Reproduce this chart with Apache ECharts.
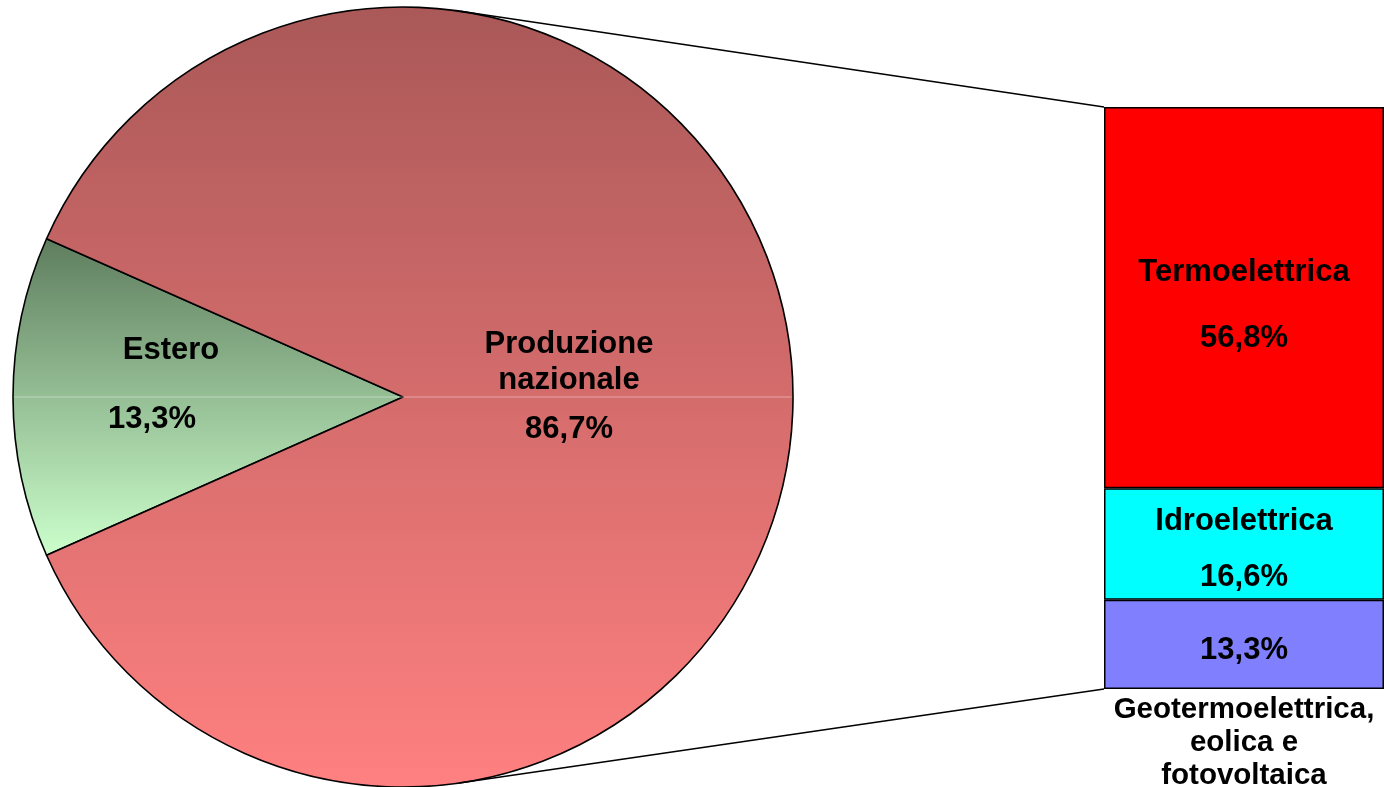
<!DOCTYPE html>
<html>
<head>
<meta charset="utf-8">
<script src="https://cdn.jsdelivr.net/npm/echarts@6/dist/echarts.min.js"></script>
<style>
html,body{margin:0;padding:0;background:#fff;}
#main{width:1384px;height:787px;}
</style>
</head>
<body>
<div id="main"></div>
<script>
// ---- data ----
const pieNames = ['Estero', 'Produzione nazionale'];
const pieValues = [13.3, 86.7];
const barNames = ['Geotermoelettrica,\neolica e\nfotovoltaica', 'Idroelettrica', 'Termoelettrica'];
const barValues = [13.3, 16.6, 56.8];
const barColors = ['#8080FF', '#00FFFF', '#FF0000'];

// ---- layout ----
const CX = 403, CY = 397, R = 390;
const GRID = {left: 1104, top: 107, width: 280, height: 582};

const fmt = v => v.toFixed(1).replace('.', ',') + '%';
const FONT = 'Liberation Sans, Arial, sans-serif';
const FS = 31;
const FS_SMALL = 29.5;
const txt = (fs, lh, extra) => Object.assign({fontSize: fs, fontWeight: 'bold', fontFamily: FONT, color: '#000', lineHeight: lh}, extra || {});

const chart = echarts.init(document.getElementById('main'), null, {renderer: 'canvas'});

const total = barValues.reduce((a, b) => a + b, 0);
const esteroAngle = pieValues[0] / (pieValues[0] + pieValues[1]) * 360;

const redGrad = new echarts.graphic.LinearGradient(0, CY - R, 0, CY + R,
  [{offset: 0, color: '#AA5858'}, {offset: 1, color: '#FF8080'}], true);
const greenGrad = new echarts.graphic.LinearGradient(0, 0, 0, 1,
  [{offset: 0, color: '#5E7D5E'}, {offset: 1, color: '#CCFFCC'}]);

const barSeries = barValues.map((v, i) => {
  let label;
  if (i === 0) {
    label = {
      show: true, position: 'inside', offset: [0, 56],
      formatter: '{v|' + fmt(v) + '}\n' + barNames[i].split('\n').map(s => '{n|' + s + '}').join('\n'),
      rich: {v: txt(FS, 84), n: txt(FS_SMALL, 33)}
    };
  } else if (i === 1) {
    label = {
      show: true, position: 'inside', offset: [0, 16],
      formatter: '{n|' + barNames[i] + '}\n{v|' + fmt(v) + '}',
      rich: {n: txt(FS, 34), v: txt(FS, 78)}
    };
  } else {
    label = {
      show: true, position: 'inside', offset: [0, 24],
      formatter: '{n|' + barNames[i] + '}\n{v|' + fmt(v) + '}',
      rich: {n: txt(FS, 34), v: txt(FS, 98)}
    };
  }
  return {
    type: 'bar', stack: 'total', barWidth: '100%',
    data: [v],
    itemStyle: {color: barColors[i], borderColor: '#000', borderWidth: 1.5},
    label: label,
    emphasis: {disabled: true},
    silent: true
  };
});

const option = {
  animation: false,
  backgroundColor: '#fff',
  grid: {left: GRID.left, top: GRID.top, width: GRID.width, height: GRID.height},
  xAxis: {type: 'category', data: ['x'], show: false},
  yAxis: {type: 'value', min: 0, max: total, show: false},
  series: [
    {
      type: 'pie',
      center: [CX, CY],
      radius: [0, R],
      startAngle: 180 + esteroAngle / 2,
      clockwise: true,
      silent: true,
      emphasis: {disabled: true},
      labelLine: {show: false},
      data: [
        {name: pieNames[0], value: pieValues[0], itemStyle: {color: greenGrad}},
        {name: pieNames[1], value: pieValues[1], itemStyle: {color: redGrad}}
      ],
      itemStyle: {borderColor: '#000', borderWidth: 1.6},
      label: {
        show: true, position: 'inside',
        formatter: p => {
          if (p.dataIndex === 0) return '{e|' + p.name + '}\n{v|' + fmt(p.value) + '}';
          const parts = p.name.split(' ');
          return '{n|' + parts[0] + '}\n{n|' + parts[1] + '}\n{w|' + fmt(p.value) + '}';
        },
        rich: {
          e: txt(FS, 34, {padding: [0, 0, 0, 38]}),
          v: txt(FS, 104),
          n: txt(FS, 36),
          w: txt(FS, 62)
        }
      },
      labelLayout: p => p.dataIndex === 0 ? {dx: -26.5, dy: 2.5} : {dx: -16, dy: -2}
    }
  ].concat(barSeries)
};

chart.setOption(option);

// connector lines tangent to the pie, ending at the bar's corners
const yTop = chart.convertToPixel({yAxisIndex: 0}, total);
const yBot = chart.convertToPixel({yAxisIndex: 0}, 0);
function tangent(px, py, upper) {
  const dx = px - CX, dy = py - CY;
  const d = Math.sqrt(dx * dx + dy * dy);
  const phi = Math.atan2(dy, dx);
  const a = Math.acos(R / d);
  const t = upper ? phi - a : phi + a;
  return [CX + R * Math.cos(t), CY + R * Math.sin(t)];
}
const t1 = tangent(GRID.left, yTop, true);
const t2 = tangent(GRID.left, yBot, false);
chart.setOption({
  graphic: [
    {type: 'line', silent: true, z: 10, shape: {x1: t1[0], y1: t1[1], x2: GRID.left, y2: yTop}, style: {stroke: '#000', lineWidth: 1.5}},
    {type: 'line', silent: true, z: 10, shape: {x1: t2[0], y1: t2[1], x2: GRID.left, y2: yBot}, style: {stroke: '#000', lineWidth: 1.5}},
    {type: 'line', silent: true, z: 10, shape: {x1: CX - R + 1.5, y1: CY, x2: CX + R - 1.5, y2: CY}, style: {stroke: 'rgba(255,255,255,0.4)', lineWidth: 1}}
  ]
});
</script>
</body>
</html>
